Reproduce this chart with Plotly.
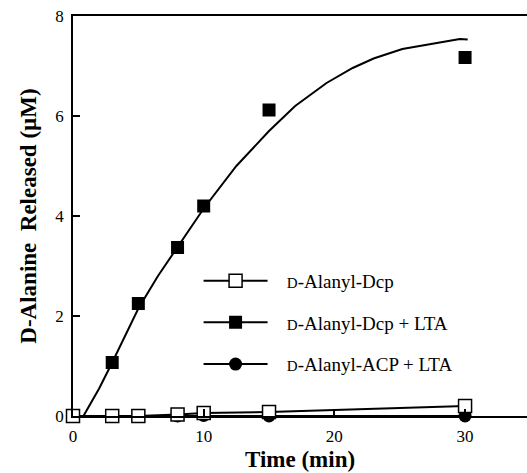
import plotly.graph_objects as go

# Data
time_pts = [0, 3, 5, 8, 10, 15, 30]
dcp_y = [0, 0, 0, 0.03, 0.06, 0.08, 0.2]               # D-Alanyl-Dcp (open squares)
dcp_lta_t = [0, 3, 5, 8, 10, 15, 30]
dcp_lta_y = [0, 1.07, 2.25, 3.37, 4.2, 6.12, 7.17]      # D-Alanyl-Dcp + LTA (filled squares)
acp_lta_y = [0, 0, 0, 0, 0.01, 0, 0]                    # D-Alanyl-ACP + LTA (filled circles)

fit_t = [0.8, 2, 3, 4, 5, 6.5, 8, 10, 12.5, 15, 17, 19.4, 21.4, 23, 25.2, 27.5, 29.6, 30.2]
fit_y = [0, 0.55, 1.07, 1.62, 2.15, 2.8, 3.38, 4.15, 5.0, 5.7, 6.2, 6.66, 6.96, 7.15, 7.34, 7.45, 7.54, 7.53]

x_ticks = [0, 10, 20, 30]
y_ticks = [0, 2, 4, 6, 8]

sc = "&nbsp;&nbsp;&nbsp;<span style='font-size:15px'>D</span>"
names = [sc + "-Alanyl-Dcp", sc + "-Alanyl-Dcp + LTA", sc + "-Alanyl-ACP + LTA"]

FONT = "Liberation Serif"

fig = go.Figure()

# fitted curve for Dcp + LTA
fig.add_trace(go.Scatter(x=fit_t, y=fit_y, mode="lines", line=dict(color="black", width=2),
                         showlegend=False, hoverinfo="skip", cliponaxis=False))
# ACP + LTA
fig.add_trace(go.Scatter(x=time_pts, y=acp_lta_y, mode="lines+markers", name=names[2],
                         line=dict(color="black", width=2),
                         marker=dict(symbol="circle", size=13, color="black"),
                         legendrank=3, legendgroup="c", cliponaxis=False))
# Dcp + LTA markers
fig.add_trace(go.Scatter(x=dcp_lta_t, y=dcp_lta_y, mode="markers",
                         marker=dict(symbol="square", size=13, color="black"),
                         showlegend=False, cliponaxis=False))
# legend entry for Dcp + LTA
fig.add_trace(go.Scatter(x=[None], y=[None], mode="lines+markers", name=names[1],
                         line=dict(color="black", width=2),
                         marker=dict(symbol="square", size=13, color="black"),
                         legendrank=2, legendgroup="b"))
# Dcp alone
fig.add_trace(go.Scatter(x=time_pts, y=dcp_y, mode="lines+markers", name=names[0],
                         line=dict(color="black", width=2),
                         marker=dict(symbol="square", size=13, color="white",
                                     line=dict(color="black", width=1.5)),
                         legendrank=1, legendgroup="a", cliponaxis=False))

fig.update_layout(
    width=527, height=473,
    margin=dict(l=73, r=0, t=16, b=57),
    paper_bgcolor="white", plot_bgcolor="white",
    font=dict(family=FONT, color="black", size=17),
    showlegend=True,
    legend=dict(x=0.2766, y=0.233, xanchor="left", yanchor="middle",
                font=dict(family=FONT, size=19, color="black"),
                bgcolor="rgba(0,0,0,0)", tracegroupgap=14, itemwidth=64),
    xaxis=dict(range=[0, 34.74], tickvals=x_ticks, ticks="inside", ticklen=7,
               tickcolor="black", tickwidth=1.5, showline=True, linecolor="black",
               linewidth=1.5, mirror=True, showgrid=False, zeroline=False,
               tickfont=dict(family=FONT, size=17), ticklabelstandoff=4),
    yaxis=dict(range=[0, 8], tickvals=y_ticks, ticks="inside", ticklen=7,
               tickcolor="black", tickwidth=1.5, showline=True, linecolor="black",
               linewidth=1.5, showgrid=False, zeroline=False,
               tickfont=dict(family=FONT, size=17), ticklabelstandoff=4,
               title=dict(text="<b>D-Alanine  Released (µM)</b>",
                          font=dict(family=FONT, size=23), standoff=12)),
    annotations=[dict(text="<b>Time (min)</b>", xref="paper", yref="paper", x=0.5, y=0,
                      yshift=-58, yanchor="bottom", showarrow=False,
                      font=dict(family=FONT, size=23, color="black"))],
)

fig.write_html("out.html")
